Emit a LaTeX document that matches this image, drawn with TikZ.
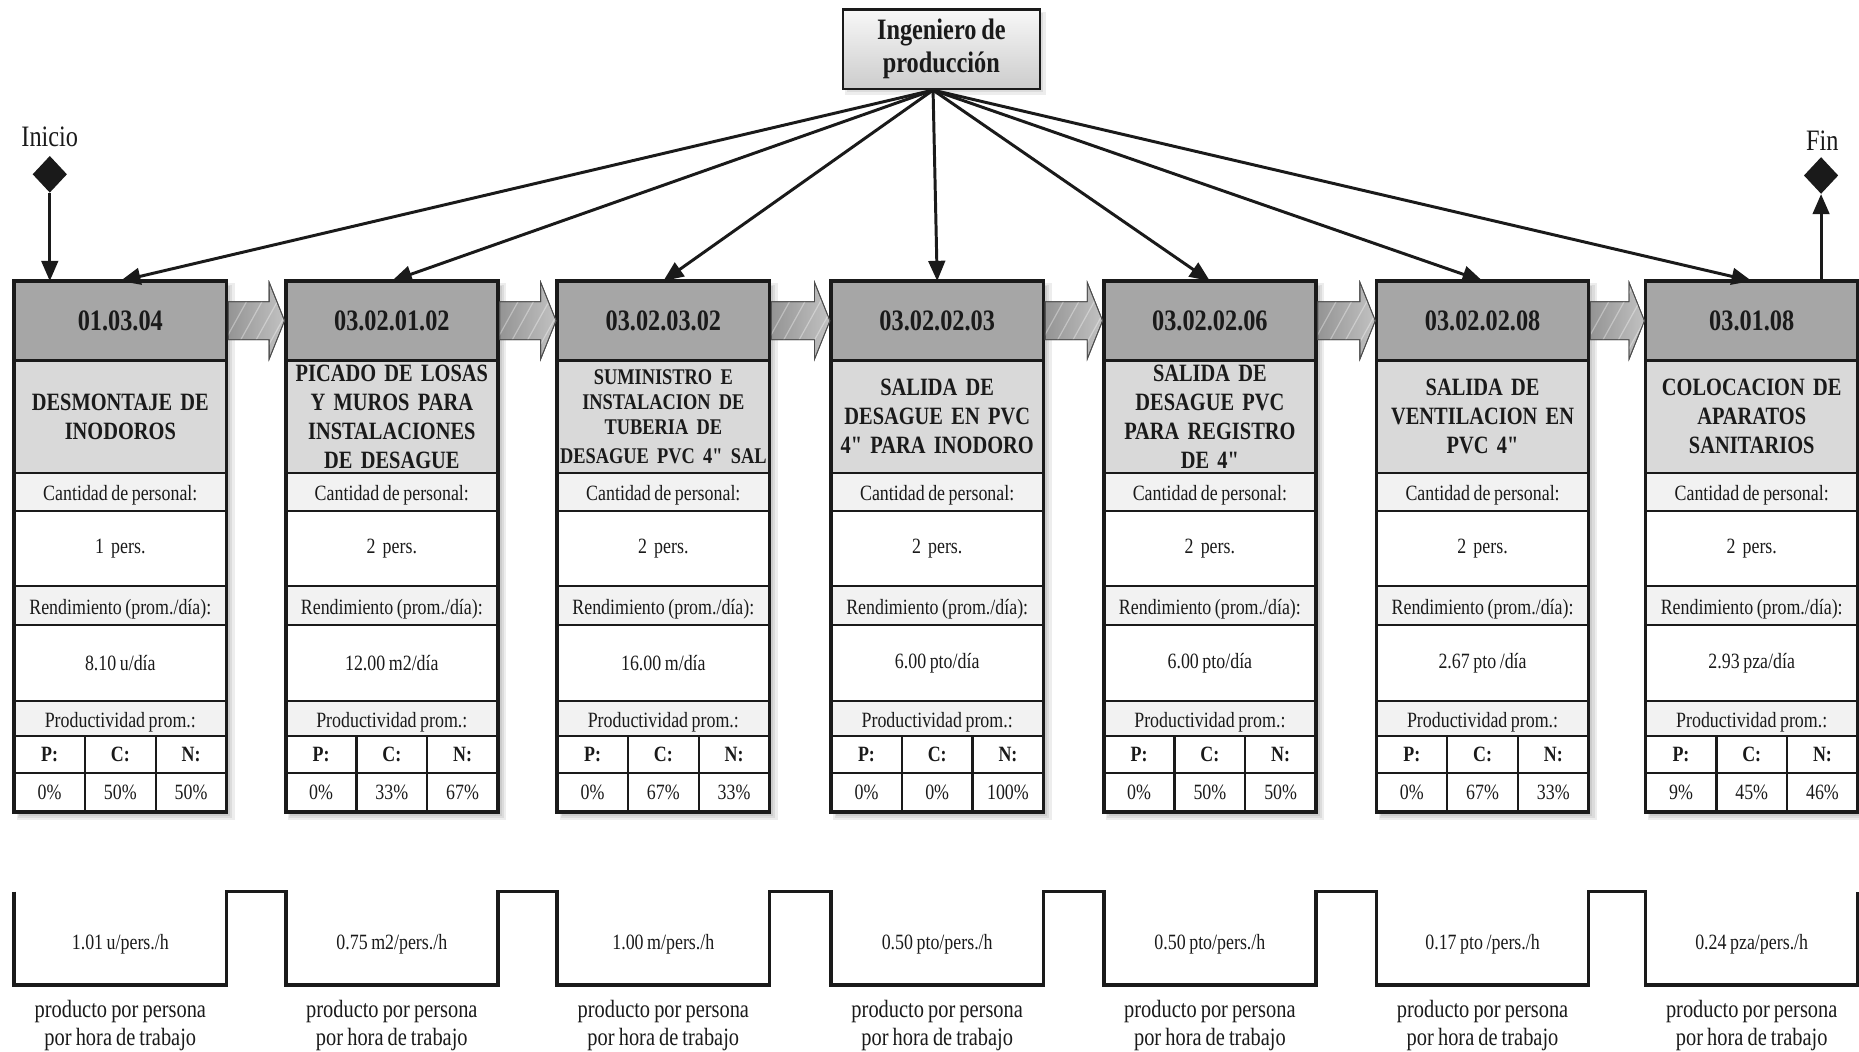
\documentclass[tikz,border=0pt]{standalone}
\usepackage{fontspec}
\setmainfont{Liberation Serif}[FakeStretch=0.82, WordSpace=0.8, Ligatures=TeXOff]
\usetikzlibrary{arrows.meta,calc,shapes.geometric}
\definecolor{hdr}{HTML}{A6A6A6}
\definecolor{ttl}{HTML}{D9D9D9}
\definecolor{lab}{HTML}{F2F2F2}
\definecolor{ink}{HTML}{1A1A1A}
\tikzset{
  cell/.style={draw=ink, line width=2pt, inner sep=0pt, outer sep=0pt, anchor=north west,
    minimum width=179pt, align=center, text=ink},
  hdrcell/.style={cell, fill=hdr, minimum height=67pt, font=\fontsize{25}{28}\selectfont\bfseries},
  ttlcell/.style={cell, fill=ttl, minimum height=95pt, text width=177pt, font=\fontsize{21}{24.5}\selectfont\bfseries},
  labcell/.style={cell, fill=lab, text height=15pt, text depth=0pt, font=\fontsize{18.4}{20}\selectfont},
  valcell/.style={cell, fill=white, font=\fontsize{18.4}{20}\selectfont},
  pcncell/.style={cell, fill=white, minimum width=59.667pt, minimum height=31pt, font=\fontsize{18.4}{20}\selectfont\bfseries},
  pctcell/.style={cell, fill=white, minimum width=59.667pt, minimum height=33pt, font=\fontsize{18.4}{20}\selectfont},
  botval/.style={inner sep=0pt, outer sep=0pt, anchor=north west, minimum width=179pt, minimum height=79pt,
    text height=18.5pt, text depth=0pt, text=ink, font=\fontsize{18.4}{20}\selectfont},
  botlab/.style={align=center, inner sep=0pt, text=ink, font=\fontsize{21}{23.5}\selectfont},
  conn/.style={draw=ink, line width=2.5pt, -{Triangle[length=17pt,width=14pt]}},
  shad/.style={fill=black, opacity=0.07},
  blockarrow/.style={left color=black!42, right color=black!24, draw=black!70, line width=0.7pt},
  hatch/.style={white, opacity=0.35, line width=1pt},
  endmark/.style={diamond, fill=ink, inner sep=0pt, minimum width=29pt, minimum height=31pt},
  endtxt/.style={text=ink, inner sep=0pt, font=\fontsize{25}{28}\selectfont},
}
\newcommand\tcol[9]{%
  \fill[shad] (#2+2,239) rectangle (#2+186,692);
  \fill[shad] (#2+3,240) rectangle (#2+184,690);
  \fill[shad] (#2+4,241) rectangle (#2+182,688);
  \node[hdrcell] (h#1) at (#2,237) {#3};
  \node[ttlcell] (t#1) at (#2,304) {#4};
  \node[labcell, minimum height=32pt] (la#1) at (#2,399) {Cantidad de personal:};
  \node[valcell, minimum height=63pt] (va#1) at (#2,431) {#5};
  \node[labcell, minimum height=33pt] (lb#1) at (#2,494) {Rendimiento (prom./día):};
  \node[valcell, minimum height=64pt] (vb#1) at (#2,527) {#6};
  \node[labcell, minimum height=30pt] (lc#1) at (#2,591) {Productividad prom.:};
  \node[pcncell] (p#1) at (#2,621) {P:};
  \node[pcncell] (c#1) at (p#1.north east) {C:};
  \node[pcncell] (n#1) at (c#1.north east) {N:};
  \node[pctcell] (pp#1) at (p#1.south west) {#7};
  \node[pctcell] (cp#1) at (pp#1.north east) {#8};
  \node[pctcell] (np#1) at (cp#1.north east) {#9};
  \draw[ink, line width=3pt] (h#1.north west) rectangle (np#1.south east);
}
\newcommand\tbot[3]{%
  \node[botval] (bw#1) at (#2,752) {#3};
  \node[botlab] (bl#1) at ($(bw#1.south)+(0,34)$) {producto por persona\\por hora de trabajo};
}
\newcommand\arrpath[2]{($(h#1.east)+(1.5,-16)$) -- ($(h#2.west)+(-14,-16)$) -- ($(h#2.west)+(-14,-32.5)$)
    -- ($(h#2.west)+(-1,0)$) -- ($(h#2.west)+(-14,32.5)$) -- ($(h#2.west)+(-14,16)$)
    -- ($(h#1.east)+(1.5,16)$) -- cycle}
\begin{document}
\begin{tikzpicture}[x=1pt,y=-1pt]
\useasboundingbox (0,0) rectangle (1568,887);
\fill[white] (0,0) rectangle (1568,887);

% top node
\fill[shad] (713,10) rectangle (882,80);
\fill[shad] (714,11) rectangle (880,78);
\node[draw=ink, line width=1.8pt, top color=black!3, bottom color=black!20, minimum width=166pt,
  minimum height=67pt, inner sep=0pt, align=center, text=ink,
  font=\fontsize{25}{28}\selectfont\bfseries] (ing) at (794,41.5) {Ingeniero de\\producción};
\coordinate (fan) at (787,76);

\tcol{1}{12}{01.03.04}{DESMONTAJE DE\\INODOROS}{1\ \ pers.}{8.10 u/día}{0\%}{50\%}{50\%}
\tcol{2}{241}{03.02.01.02}{PICADO DE LOSAS\\Y MUROS PARA\\INSTALACIONES\\DE DESAGUE}{2\ \ pers.}{12.00 m2/día}{0\%}{33\%}{67\%}
\tcol{3}{470}{03.02.03.02}{\fontsize{18.9}{21.3}\selectfont SUMINISTRO E\\INSTALACION DE\\TUBERIA DE\\DESAGUE PVC 4" SAL}{2\ \ pers.}{16.00 m/día}{0\%}{67\%}{33\%}
\tcol{4}{701}{03.02.02.03}{SALIDA DE\\DESAGUE EN PVC\\4" PARA INODORO}{2\ \ pers.}{6.00 pto/día}{0\%}{0\%}{100\%}
\tcol{5}{931}{03.02.02.06}{SALIDA DE\\DESAGUE PVC\\PARA REGISTRO\\DE 4"}{2\ \ pers.}{6.00 pto/día}{0\%}{50\%}{50\%}
\tcol{6}{1161}{03.02.02.08}{SALIDA DE\\VENTILACION EN\\PVC 4"}{2\ \ pers.}{2.67 pto /día}{0\%}{67\%}{33\%}
\tcol{7}{1388}{03.01.08}{COLOCACION DE\\APARATOS\\SANITARIOS}{2\ \ pers.}{2.93 pza/día}{9\%}{45\%}{46\%}

% block arrows between activities
\foreach \a/\b in {1/2,2/3,3/4,4/5,5/6,6/7}{
  \path[blockarrow] \arrpath{\a}{\b};
  \begin{scope}
    \clip \arrpath{\a}{\b};
    \foreach \k in {0,13,...,65}{ \draw[hatch] ($(h\a.east)+(\k-12,36)$) -- ++(40,-72); }
  \end{scope}
  \draw[black!70, line width=0.7pt] \arrpath{\a}{\b};
}

% connectors from engineer
\foreach \i in {1,...,7}{ \draw[conn] (fan) -- (h\i.north); }

% start / end
\node[endtxt] (initxt) at (42,115) {Inicio};
\node[endmark] (ini) at (42,147) {};
\draw[conn] (ini.south) -- (ini.south |- h1.north);
\node[endtxt] (fintxt) at (1537,119) {Fin};
\node[endmark] (fin) at (1536,148) {};
\draw[conn] (fin.south |- h7.north) -- (fin.south);

% bottom productivity wave
\tbot{1}{12}{1.01 u/pers./h}
\tbot{2}{241}{0.75 m2/pers./h}
\tbot{3}{470}{1.00 m/pers./h}
\tbot{4}{701}{0.50 pto/pers./h}
\tbot{5}{931}{0.50 pto/pers./h}
\tbot{6}{1161}{0.17 pto /pers./h}
\tbot{7}{1388}{0.24 pza/pers./h}
\draw[ink, line width=3pt, line join=miter] (bw1.north west)
  \foreach \i in {1,...,7}{ -- (bw\i.north west) -- (bw\i.south west) -- (bw\i.south east) -- (bw\i.north east) };
\end{tikzpicture}
\end{document}
